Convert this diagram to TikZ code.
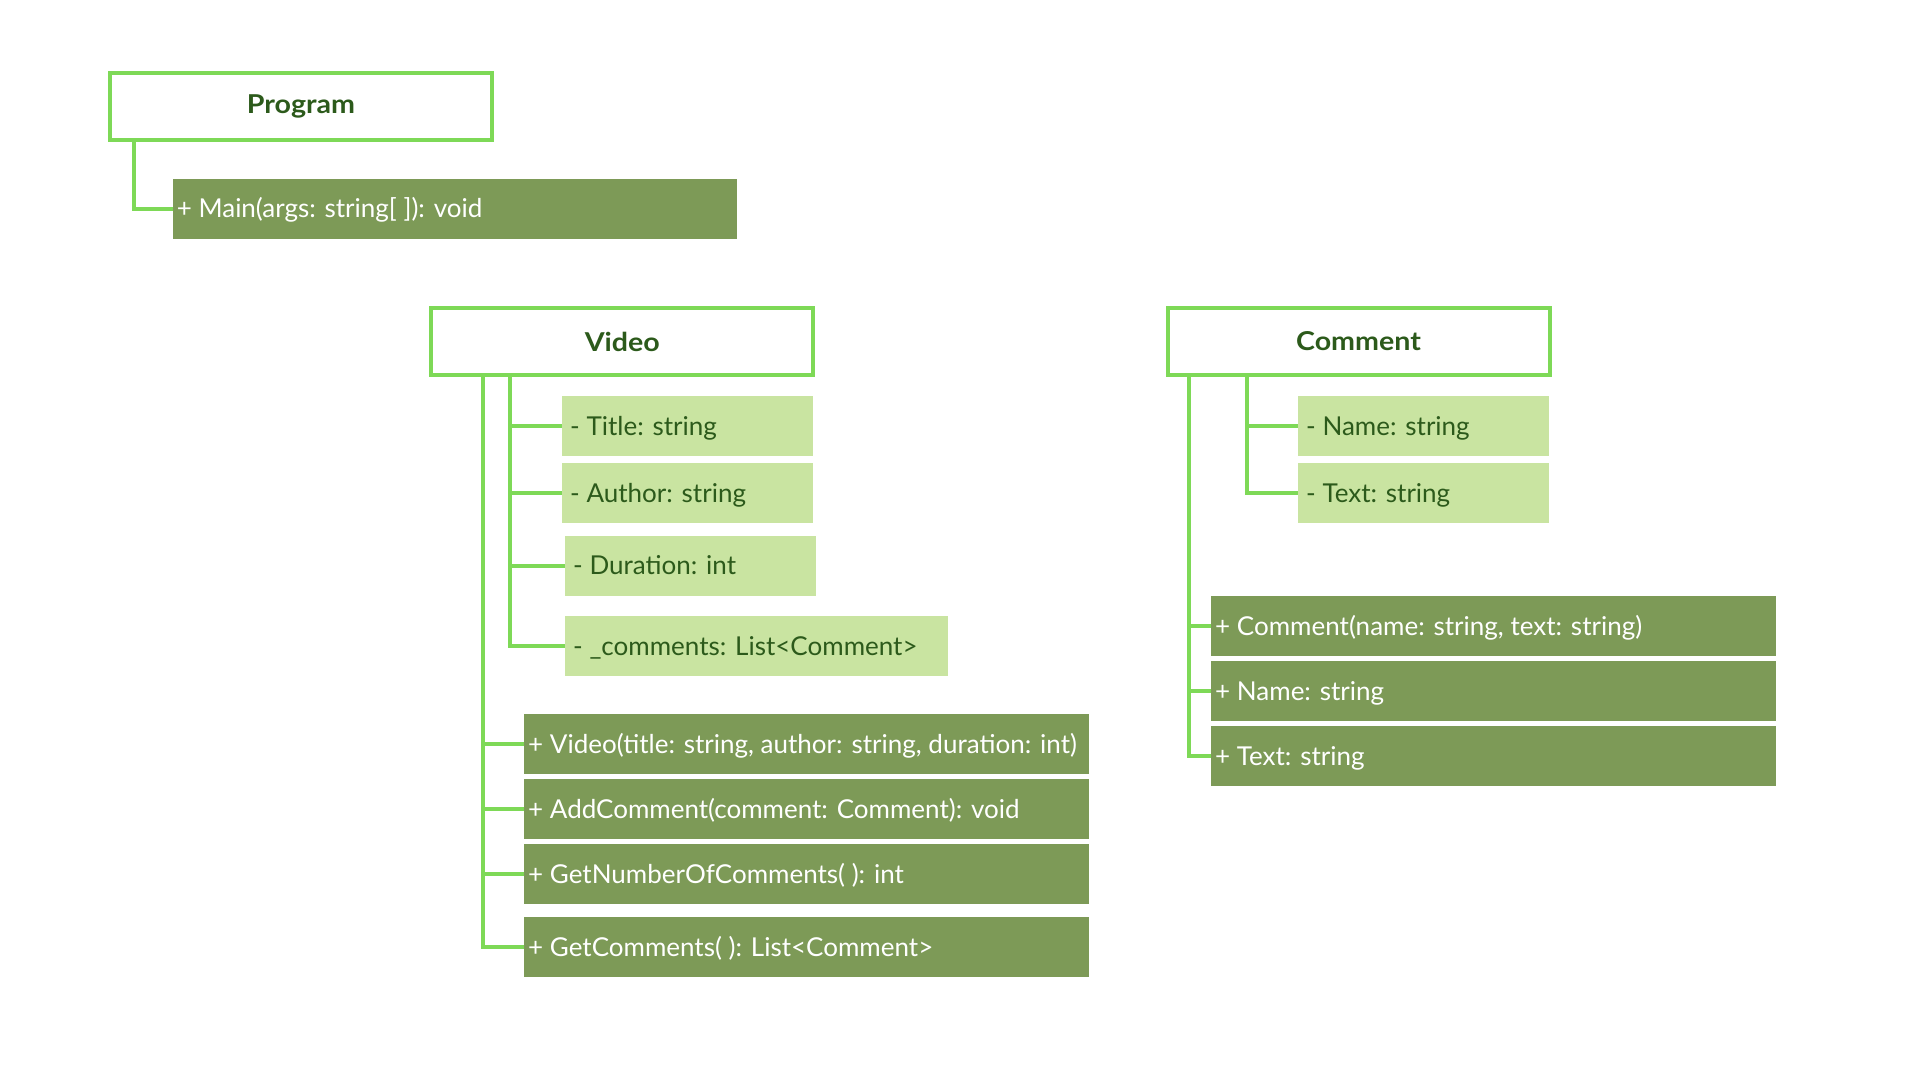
\documentclass[tikz,border=0pt]{standalone}
\usepackage{fontspec}
\setmainfont{Lato}
\newfontfamily\titlefont{Lato}[FakeStretch=1.1]
\definecolor{linegreen}{HTML}{7ED957}
\definecolor{lightfill}{HTML}{C9E4A1}
\definecolor{darkfill}{HTML}{7D9A57}
\definecolor{textgreen}{HTML}{2C5A1B}
\newcommand\fieldtext[2]{\makebox[#1pt][l]{#2}}
\begin{document}
\begin{tikzpicture}[x=1pt,y=-1pt,
  classbox/.style={draw=linegreen, line width=4pt, fill=white,
    minimum width=382pt, minimum height=67pt, inner sep=0pt,
    font=\titlefont\bfseries\fontsize{26}{30}\selectfont, text=textgreen},
  fieldbox/.style={fill=lightfill, anchor=north west, minimum height=60pt,
    inner xsep=8pt, inner ysep=0pt, text height=18.5pt, text depth=0pt,
    text=textgreen, font=\fontsize{26}{30}\selectfont},
  methodbox/.style={fill=darkfill, anchor=north west, minimum height=60pt,
    inner xsep=4pt, inner ysep=0pt, text height=18.5pt, text depth=0pt,
    text=white, font=\fontsize{26}{30}\selectfont},
  conn/.style={draw=linegreen, line width=4pt}
]
\fill[white] (0,0) rectangle (1920,1080);
\useasboundingbox (0,0) rectangle (1920,1080);

% ---------- Program ----------
\node[classbox] (program) at (301,106) {Program};
\node[methodbox] (main) at (172.6,178.3) {\fieldtext{556}{+ Main(args: string[ ]): void}};
\coordinate (ptx) at (134.4,0);
\draw[conn] (program.south -| ptx) |- (main.west);

% ---------- Video ----------
\node[classbox] (video) at (622.3,341.5) {Video};
\node[fieldbox] (vtitle) at (562,395.7) {\fieldtext{234.5}{- Title: string}};
\node[fieldbox] (vauthor) at (562,462.7) {\fieldtext{234.5}{- Author: string}};
\node[fieldbox] (vduration) at (565,535.3) {\fieldtext{234.7}{- Duration: int}};
\node[fieldbox] (vcomments) at (565,616) {\fieldtext{367}{- \_comments: List<Comment>}};
\node[methodbox] (vctor) at (524,714) {\fieldtext{557}{+ Video(title: string, author: string, duration: int)}};
\node[methodbox] (vadd) at (524,779) {\fieldtext{557}{+ AddComment(comment: Comment): void}};
\node[methodbox] (vnum) at (524,844) {\fieldtext{557}{+ GetNumberOfComments( ): int}};
\node[methodbox] (vget) at (524,917) {\fieldtext{557}{+ GetComments( ): List<Comment>}};
\coordinate (vo) at (482.5,0);
\coordinate (vi) at (510.4,0);
\draw[conn] (video.south -| vi) |- (vcomments.west);
\draw[conn] (vi |- vtitle.west) -- (vtitle.west);
\draw[conn] (vi |- vauthor.west) -- (vauthor.west);
\draw[conn] (vi |- vduration.west) -- (vduration.west);
\draw[conn] (video.south -| vo) |- (vget.west);
\draw[conn] (vo |- vctor.west) -- (vctor.west);
\draw[conn] (vo |- vadd.west) -- (vadd.west);
\draw[conn] (vo |- vnum.west) -- (vnum.west);

% ---------- Comment ----------
\node[classbox] (comment) at (1358.5,341.5) {Comment};
\node[fieldbox] (cname) at (1298,395.7) {\fieldtext{234.6}{- Name: string}};
\node[fieldbox] (ctext) at (1298,462.7) {\fieldtext{234.6}{- Text: string}};
\node[methodbox] (cctor) at (1211,596) {\fieldtext{556.5}{+ Comment(name: string, text: string)}};
\node[methodbox] (cnameprop) at (1211,661) {\fieldtext{556.5}{+ Name: string}};
\node[methodbox] (ctextprop) at (1211,726) {\fieldtext{556.5}{+ Text: string}};
\coordinate (co) at (1189.4,0);
\coordinate (ci) at (1247,0);
\draw[conn] (comment.south -| ci) |- (ctext.west);
\draw[conn] (ci |- cname.west) -- (cname.west);
\draw[conn] (comment.south -| co) |- (ctextprop.west);
\draw[conn] (co |- cctor.west) -- (cctor.west);
\draw[conn] (co |- cnameprop.west) -- (cnameprop.west);
\end{tikzpicture}
\end{document}
